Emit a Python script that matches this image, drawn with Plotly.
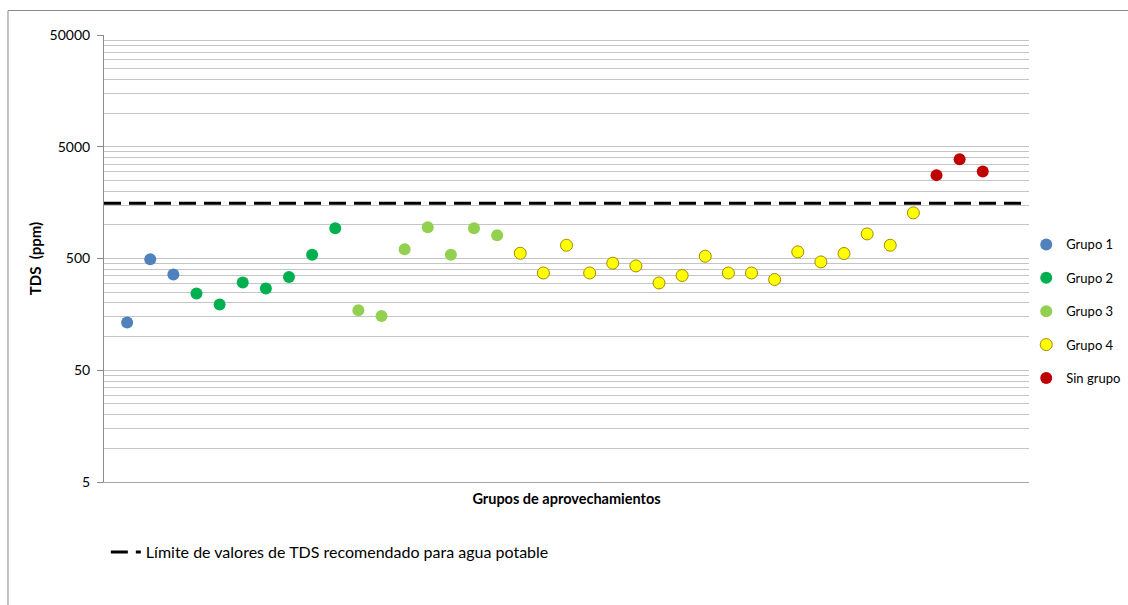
import plotly.graph_objects as go

# ---- data ----
grupo1_x = [1, 2, 3]
grupo1_tds = [134, 493, 360]

grupo2_x = [4, 5, 6, 7, 8, 9, 10]
grupo2_tds = [243, 194, 305, 269, 342, 539, 933]

grupo3_x = [11, 12, 13, 14, 15, 16, 17]
grupo3_tds = [172, 153, 606, 953, 539, 933, 809]

grupo4_x = list(range(18, 36))
grupo4_tds = [557, 371, 657, 371, 454, 429, 302, 352, 524,
              371, 371, 324, 573, 466, 554, 830, 657, 1280]

singrupo_x = [36, 37, 38]
singrupo_tds = [2786, 3870, 3003]

limite_x = [0, 40]
limite_tds = [1560, 1560]

y_ticks = [5, 50, 500, 5000, 50000]
y_ticktext = ["5", "50", "500", "5000", "50000"]

# minor gridlines: 5k * 10^n
minor_vals = []
for base in [5, 50, 500, 5000]:
    for k in range(2, 10):
        minor_vals.append(base * k)

FONT = "Lato"

fig = go.Figure()

series = [
    ("Grupo 1", grupo1_x, grupo1_tds, "#4F81BD", None),
    ("Grupo 2", grupo2_x, grupo2_tds, "#00B050", None),
    ("Grupo 3", grupo3_x, grupo3_tds, "#92D050", None),
    ("Grupo 4", grupo4_x, grupo4_tds, "#FFFF00", "#A68A00"),
    ("Sin grupo", singrupo_x, singrupo_tds, "#C00000", None),
]

# dashed limit line
fig.add_trace(go.Scatter(
    x=limite_x, y=limite_tds, mode="lines",
    line=dict(color="black", width=3, dash="17px,8px"),
    name="Límite de valores de TDS recomendado para agua potable",
    legend="legend2", hoverinfo="skip",
))

for name, xs, ys, col, edge in series:
    fig.add_trace(go.Scatter(
        x=xs, y=ys, mode="markers", name=name, legendgroup=name,
        marker=dict(size=12, color=col,
                    line=dict(color=edge if edge else col, width=1 if edge else 0)),
    ))

fig.update_layout(
    width=1128, height=605,
    margin=dict(l=104, r=99, t=35, b=123, autoexpand=False),
    paper_bgcolor="white", plot_bgcolor="white",
    font=dict(family=FONT, size=13, color="#000000"),
    showlegend=True,
    legend=dict(
        x=0.997, xanchor="left", y=0.565, yanchor="top",
        traceorder="grouped", tracegroupgap=13.5,
        font=dict(family=FONT, size=13, color="#000000"),
        bgcolor="rgba(0,0,0,0)", itemwidth=30,
    ),
    legend2=dict(
        x=0.002, xanchor="left", y=-0.1567, yanchor="middle",
        font=dict(family=FONT, size=16, color="#000000"),
        bgcolor="rgba(0,0,0,0)",
    ),
    xaxis=dict(
        range=[0, 40], showgrid=False, zeroline=False,
        showticklabels=False, ticks="",
        showline=True, linecolor="#A6A6A6", linewidth=1,
        title=dict(text="<b>Grupos de aprovechamientos</b>",
                   font=dict(family=FONT, size=14.5, color="#000000"), standoff=11),
    ),
    yaxis=dict(
        type="log", range=[0.69897, 4.69897],
        tickmode="array", tickvals=y_ticks, ticktext=y_ticktext,
        ticks="outside", ticklen=6, tickcolor="#8C8C8C",
        ticklabelstandoff=4,
        showgrid=True, gridcolor="#C4C4C4", gridwidth=1,
        showline=True, linecolor="#8C8C8C", linewidth=1,
        zeroline=False,
        tickfont=dict(family=FONT, size=14, color="#000000"),
        minor=dict(tickmode="array", tickvals=minor_vals, showgrid=True,
                   gridcolor="#C4C4C4", gridwidth=1, ticks=""),
        title=dict(text="<b>TDS  (ppm)</b>",
                   font=dict(family=FONT, size=15, color="#000000"), standoff=4),
    ),
    shapes=[dict(type="rect", xref="paper", yref="paper",
                 x0=-0.1038, x1=1.2, y0=-0.3, y1=1.0548,
                 line=dict(color="#8A8A8A", width=1), fillcolor="rgba(0,0,0,0)",
                 layer="below")],
)

fig.write_html("out.html", config={"displayModeBar": False},
               post_script="document.body.style.margin='0px';")
